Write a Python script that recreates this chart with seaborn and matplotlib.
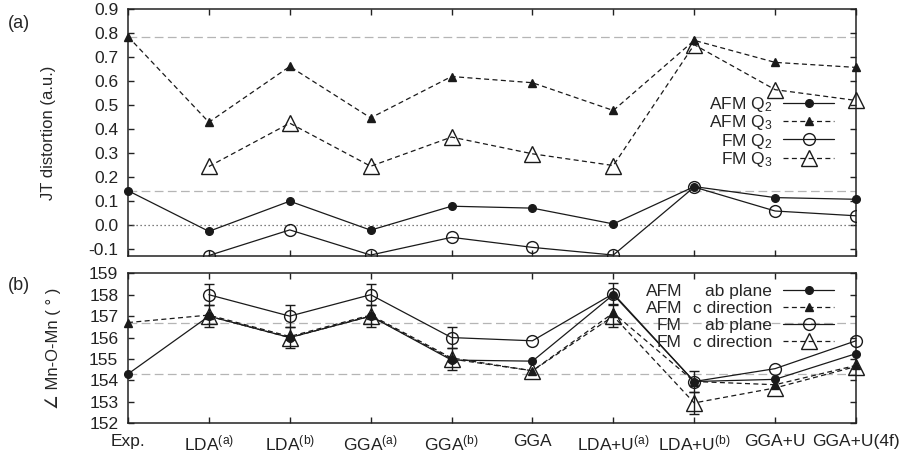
import numpy as np
import pandas as pd
import matplotlib
matplotlib.use("Agg")
import matplotlib.pyplot as plt
import seaborn as sns

# ---------------- data ----------------
categories = ["Exp.", "LDA$^{\\rm (a)}$", "LDA$^{\\rm (b)}$", "GGA$^{\\rm (a)}$",
              "GGA$^{\\rm (b)}$", "GGA", "LDA+U$^{\\rm (a)}$", "LDA+U$^{\\rm (b)}$",
              "GGA+U", "GGA+U(4f)"]
nan = np.nan
# (a) JT distortion
afm_q2 = [0.143, -0.027, 0.099, -0.022, 0.078, 0.070, 0.004, 0.160, 0.114, 0.107]
afm_q3 = [0.787, 0.429, 0.662, 0.447, 0.620, 0.594, 0.478, 0.771, 0.679, 0.658]
fm_q2 = [nan, -0.128, -0.021, -0.126, -0.052, -0.094, -0.126, 0.158, 0.058, 0.038]
fm_q3 = [nan, 0.244, 0.425, 0.245, 0.367, 0.297, 0.248, 0.753, 0.565, 0.520]
exp_ref_a = [0.787, 0.143]
# (b) Mn-O-Mn angle
afm_ab = [154.3, 157.0, 156.0, 157.0, 154.95, 154.9, 158.0, 153.95, 154.05, 155.25]
afm_c = [156.7, 157.05, 156.05, 157.05, 155.05, 154.45, 157.15, 153.95, 153.8, 154.7]
fm_ab = [nan, 158.0, 157.0, 158.0, 156.0, 155.85, 158.05, 153.95, 154.55, 155.85]
fm_c = [nan, 157.0, 156.0, 157.0, 155.0, 154.45, 157.0, 152.95, 153.65, 154.65]
fm_ab_err = [0, 0.5, 0.5, 0.5, 0.5, 0, 0.5, 0.5, 0, 0]
fm_c_err = [0, 0.5, 0.5, 0.5, 0.5, 0, 0.5, 0.5, 0, 0]
exp_ref_b = [156.7, 154.3]

# ---------------- style ----------------
sns.set_theme(style="ticks")
plt.rcParams["font.family"] = ["Liberation Sans", "DejaVu Sans"]
plt.rcParams["mathtext.fontset"] = "custom"
plt.rcParams["mathtext.rm"] = "Liberation Sans"
plt.rcParams["mathtext.it"] = "Liberation Sans:italic"
plt.rcParams["axes.unicode_minus"] = False
plt.rcParams["axes.linewidth"] = 1.1
plt.rcParams["axes.edgecolor"] = "#222222"

FS = 12
TFS = 12.5
x = np.arange(len(categories))
fig = plt.figure(figsize=(9, 4.61), dpi=100)
ax1 = fig.add_axes([0.1422, 0.4447, 0.8089, 0.5347])
ax2 = fig.add_axes([0.1422, 0.0818, 0.8089, 0.3254])

LW = 0.9
DASH = (0, (4, 2.7))


def series(ax, yvals, label, marker, ms, filled, dashed, clip=False):
    df = pd.DataFrame({"x": x, "y": yvals}).dropna()
    sns.lineplot(data=df, x="x", y="y", ax=ax, color="k", lw=LW,
                 linestyle=DASH if dashed else "-",
                 marker=marker, markersize=ms,
                 markerfacecolor="k" if filled else "none",
                 markeredgecolor="k", markeredgewidth=1.0,
                 label=label, clip_on=clip, zorder=3)


def errs(ax, yvals, e):
    df = pd.DataFrame({"x": x, "y": yvals, "e": e}).dropna()
    df = df[df["e"] > 0]
    ax.errorbar(df["x"], df["y"], yerr=df["e"], fmt="none", ecolor="k",
                elinewidth=1.0, capsize=3.6, capthick=1.0, zorder=2,
                clip_on=False)


GREY = dict(color="#b5b5b5", lw=0.9, ls=(0, (7, 3.5)), zorder=1)

# ---- panel (a)
for v in exp_ref_a:
    ax1.axhline(v, **GREY)
ax1.axhline(0.0, color="#555555", lw=0.9, ls=(0, (1, 2.2)), zorder=1)
series(ax1, afm_q2, "AFM Q$_2$", "o", 5.5, True, False)
series(ax1, afm_q3, "AFM Q$_3$", "^", 5.5, True, True)
series(ax1, fm_q2, "FM Q$_2$", "o", 8.5, False, False, clip=True)
series(ax1, fm_q3, "FM Q$_3$", "^", 12, False, True)
ax1.set_xlim(0, 9)
ax1.set_ylim(-0.13, 0.9)
ax1.set_yticks(np.arange(-0.1, 0.91, 0.1))
ax1.set_yticklabels([f"{v:.1f}" for v in np.arange(-0.1, 0.91, 0.1)])
ax1.set_xticks(x)
ax1.set_xticklabels([])
ax1.set_xlabel("")
ax1.set_ylabel("JT distortion (a.u.)", fontsize=FS, labelpad=23)

# ---- panel (b)
for v in exp_ref_b:
    ax2.axhline(v, **GREY)
errs(ax2, fm_ab, fm_ab_err)
errs(ax2, fm_c, fm_c_err)
series(ax2, afm_ab, "ab plane", "o", 5.5, True, False)
series(ax2, afm_c, "c direction", "^", 5.5, True, True)
series(ax2, fm_ab, "ab plane", "o", 8.5, False, False)
series(ax2, fm_c, "c direction", "^", 12, False, True)
ax2.set_xlim(0, 9)
ax2.set_ylim(152, 159)
ax2.set_yticks(np.arange(152, 160, 1))
ax2.set_xticks(x)
ax2.set_xticklabels(categories)
ax2.set_xlabel("")
ax2.set_ylabel("\u2220 Mn-O-Mn ( \u00b0 )", fontsize=FS, labelpad=20)

for ax in (ax1, ax2):
    ax.tick_params(direction="in", length=4.5, width=1.0, top=True, right=True,
                   labelsize=TFS, pad=7, colors="#222222")
    ax.tick_params(axis="x", pad=7.5)
    for s in ax.spines.values():
        s.set_visible(True)

leg_kw = dict(markerfirst=False, frameon=False, fontsize=TFS, borderpad=0,
              borderaxespad=0, handlelength=2.93, handletextpad=0.63,
              loc="center right")
leg1 = ax1.legend(bbox_to_anchor=(0.970, 0.503), labelspacing=-0.05, **leg_kw)
leg2 = ax2.legend(bbox_to_anchor=(0.970, 0.709), labelspacing=0.1, **leg_kw)

fig.text(8 / 900, 1 - 23 / 461, "(a)", fontsize=FS + 1, va="center", ha="left")
fig.text(8 / 900, 1 - 285 / 461, "(b)", fontsize=FS + 1, va="center", ha="left")

# AFM / FM prefixes in legend (b)
fig.canvas.draw()
renderer = fig.canvas.get_renderer()
texts = leg2.get_texts()
x0 = min(t.get_window_extent(renderer).x0 for t in texts)
inv = fig.transFigure.inverted()
for t, pre in zip(texts, ["AFM", "AFM", "FM", "FM"]):
    bx, by = t.get_transform().transform(t.get_position())
    fx, fy = inv.transform((x0 - 11, by))
    fig.text(fx, fy, pre, fontsize=TFS, ha="right", va="baseline")

fig.savefig("out.png", dpi=100)
